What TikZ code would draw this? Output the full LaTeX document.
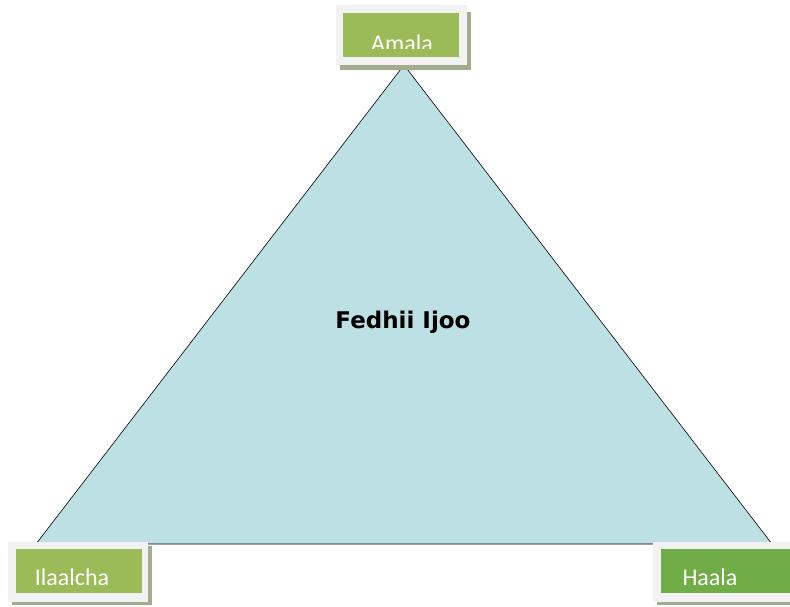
\documentclass[tikz,border=0pt]{standalone}
\usepackage{fontspec}
\setmainfont{Carlito}
\newfontfamily\titlefont{DejaVu Sans}
\definecolor{trifill}{HTML}{BCE0E3}
\definecolor{framec}{HTML}{F2F2F2}
\definecolor{shadowc}{HTML}{A3AC8C}
\definecolor{greenA}{HTML}{9BBB59}
\definecolor{greenB}{HTML}{70AD47}
\tikzset{
  tri/.style={fill=trifill,draw=black,line width=0.6pt,line join=miter},
  framebox/.style={fill=framec},
  shadowbox/.style={fill=shadowc},
  labeltext/.style={text=white,font=\fontsize{24}{28}\selectfont,inner sep=0pt},
  titletext/.style={font=\titlefont\bfseries\fontsize{23}{27}\selectfont,inner sep=0pt}
}
\begin{document}
\begin{tikzpicture}[x=1pt,y=-1pt]
\useasboundingbox (0,0) rectangle (790,606);
% triangle
\coordinate (A) at (404,65);
\coordinate (B) at (36,544);
\coordinate (C) at (772,544);
\filldraw[tri] (A) -- (B) -- (C) -- cycle;
\node[titletext] (title) at (403,322) {Fedhii Ijoo};
% Amala box
\fill[shadowbox] (340,12) rectangle (471,70);
\fill[framebox] (336,5) rectangle (467,65);
\fill[greenA] (343,13) rectangle (459,57);
\begin{scope}
\clip (343,13) rectangle (459,48);
\node[labeltext,anchor=base] (amala) at (402,51) {Amala};
\end{scope}
% Ilaalcha box
\fill[shadowbox] (12,546) rectangle (152,605);
\fill[framebox] (8,542) rectangle (148,602);
\fill[greenA] (16,549) rectangle (142,593);
\node[labeltext] (ilaalcha) at (72,577) {Ilaalcha};
% Haala box
\fill[shadowbox] (657,546) rectangle (795,605);
\fill[framebox] (653,542) rectangle (795,602);
\fill[greenB] (661,549) rectangle (795,593);
\node[labeltext] (haala) at (710,577) {Haala};
\end{tikzpicture}
\end{document}
